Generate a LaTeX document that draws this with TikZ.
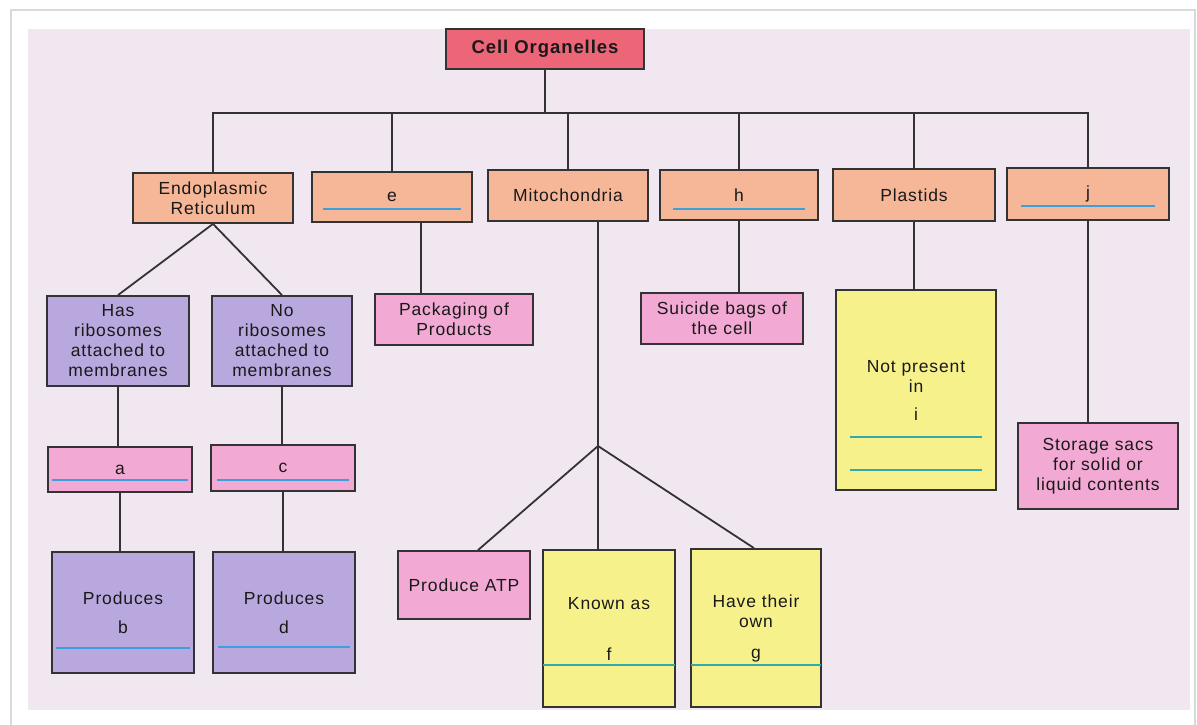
\documentclass[tikz,border=0pt]{standalone}
\usepackage{fontspec}
\setmainfont{Liberation Sans}[LetterSpace=5]
\definecolor{paper}{RGB}{241,231,241}
\definecolor{headred}{RGB}{236,102,120}
\definecolor{peach}{RGB}{246,182,152}
\definecolor{lilac}{RGB}{185,168,222}
\definecolor{rosepink}{RGB}{242,170,212}
\definecolor{lemon}{RGB}{247,241,140}
\definecolor{blueline}{RGB}{60,160,220}
\definecolor{tealline}{RGB}{50,170,170}

\begin{document}
\begin{tikzpicture}[x=1pt,y=-1pt]
    \tikzstyle{box}=[draw=black!80, line width=1.8pt, align=center, inner sep=2pt, text=black!90, font=\fontsize{17.5pt}{20pt}\selectfont]
    \tikzstyle{head}=[box, fill=headred, font=\fontsize{18.5pt}{20pt}\selectfont\bfseries]
    \tikzstyle{organelle}=[box, fill=peach, minimum width=160pt, minimum height=50pt]
    \tikzstyle{ribo}=[box, fill=lilac]
    \tikzstyle{role}=[box, fill=rosepink]
    \tikzstyle{fact}=[box, fill=lemon]
    \tikzstyle{link}=[draw=black!80, line width=1.8pt]

    \useasboundingbox (0,0) rectangle (1197,724);
    \fill[white] (0,0) rectangle (1197,724);
    \draw[black!15, line width=1.5pt] (11,10) rectangle (1195,740);
    \fill[paper] (28,29) rectangle (1190,710);

    \node[head, minimum width=198pt, minimum height=40pt] (org) at (545,49) {Cell Organelles};

    % organelles
    \node[organelle] (er) at (213,198) {Endoplasmic\\Reticulum};
    \node[organelle] (e) at (392,197) {e};
    \node[organelle, minimum height=51pt] (mito) at (568,195.5) {Mitochondria};
    \node[organelle, minimum width=158pt] (h) at (739,195) {h};
    \node[organelle, minimum width=162pt, minimum height=52pt] (plastids) at (914,195) {Plastids};
    \node[organelle, minimum width=162pt, minimum height=52pt] (j) at (1088,194) {j};

    % endoplasmic reticulum
    \node[ribo, minimum width=142pt, minimum height=90pt] (has) at (118,341) {Has\\ribosomes\\attached to\\membranes};
    \node[ribo, minimum width=140pt, minimum height=90pt] (no) at (282,341) {No\\ribosomes\\attached to\\membranes};
    \node[role, minimum width=144pt, minimum height=45pt] (a) at (120,469.5) {a};
    \node[role, minimum width=144pt, minimum height=46pt] (c) at (283,468) {c};
    \node[ribo, minimum width=142pt, minimum height=121pt] (b) at (123,612.5) {Produces\\[9pt]b};
    \node[ribo, minimum width=142pt, minimum height=121pt] (d) at (284,612.5) {Produces\\[9pt]d};

    % the others
    \node[role, minimum width=158pt, minimum height=51pt] (pack) at (454,319.5) {Packaging of\\Products};
    \node[role, minimum width=132pt, minimum height=68pt] (atp) at (464,585) {Produce ATP};
    \node[fact, minimum width=132pt, minimum height=157pt] (known) at (609,628.5) {Known as\\[31pt]f};
    \node[fact, minimum width=130pt, minimum height=158pt] (own) at (756,628) {Have their\\own\\[11pt]g};
    \node[role, minimum width=162pt, minimum height=51pt] (suicide) at (722,318.5) {Suicide bags of\\the cell};
    \node[fact, minimum width=160pt, minimum height=200pt] (notin) at (916,390) {Not present\\in\\[8pt]i};
    \node[role, minimum width=160pt, minimum height=86pt] (storage) at (1098,466) {Storage sacs\\for solid or\\liquid contents};

    \foreach \n in {er,e,mito,h,plastids,j}
        \draw[link] (org.south) -- ++(0,43) -| (\n.north);

    \draw[link] (er.south) -- (has.north);
    \draw[link] (er.south) -- (no.north);
    \draw[link] (has.south) -- (has.south |- a.north);
    \draw[link] (a.south) -- (a.south |- b.north);
    \draw[link] (no.south) -- (no.south |- c.north);
    \draw[link] (c.south) -- (c.south |- d.north);
    \draw[link] ([xshift=29pt]e.south) -- ([xshift=29pt]e.south |- pack.north);

    \coordinate (fork) at (598,446);
    \draw[link] ([xshift=30pt]mito.south) -- (fork);
    \draw[link] (fork) -- ([xshift=14pt]atp.north);
    \draw[link] (fork) -- (fork |- known.north);
    \draw[link] (fork) -- ([xshift=-2pt]own.north);

    \draw[link] (h.south) -- (h.south |- suicide.north);
    \draw[link] (plastids.south) -- (plastids.south |- notin.north);
    \draw[link] (j.south) -- (j.south |- storage.north);

    % blanks to fill in
    \foreach \n/\up/\gap/\col in {e/14/12/blueline, h/12/14/blueline, j/15/15/blueline,
        a/13/5/blueline, c/12/7/blueline, b/26/5/blueline, d/27/6/blueline,
        notin/54/15/tealline, notin/21/15/tealline, known/43/1/tealline, own/43/1/tealline}
        \draw[line width=2pt, draw=\col] ([xshift=\gap pt,yshift=\up pt]\n.south west) -- ([xshift=-\gap pt,yshift=\up pt]\n.south east);
\end{tikzpicture}
\end{document}
